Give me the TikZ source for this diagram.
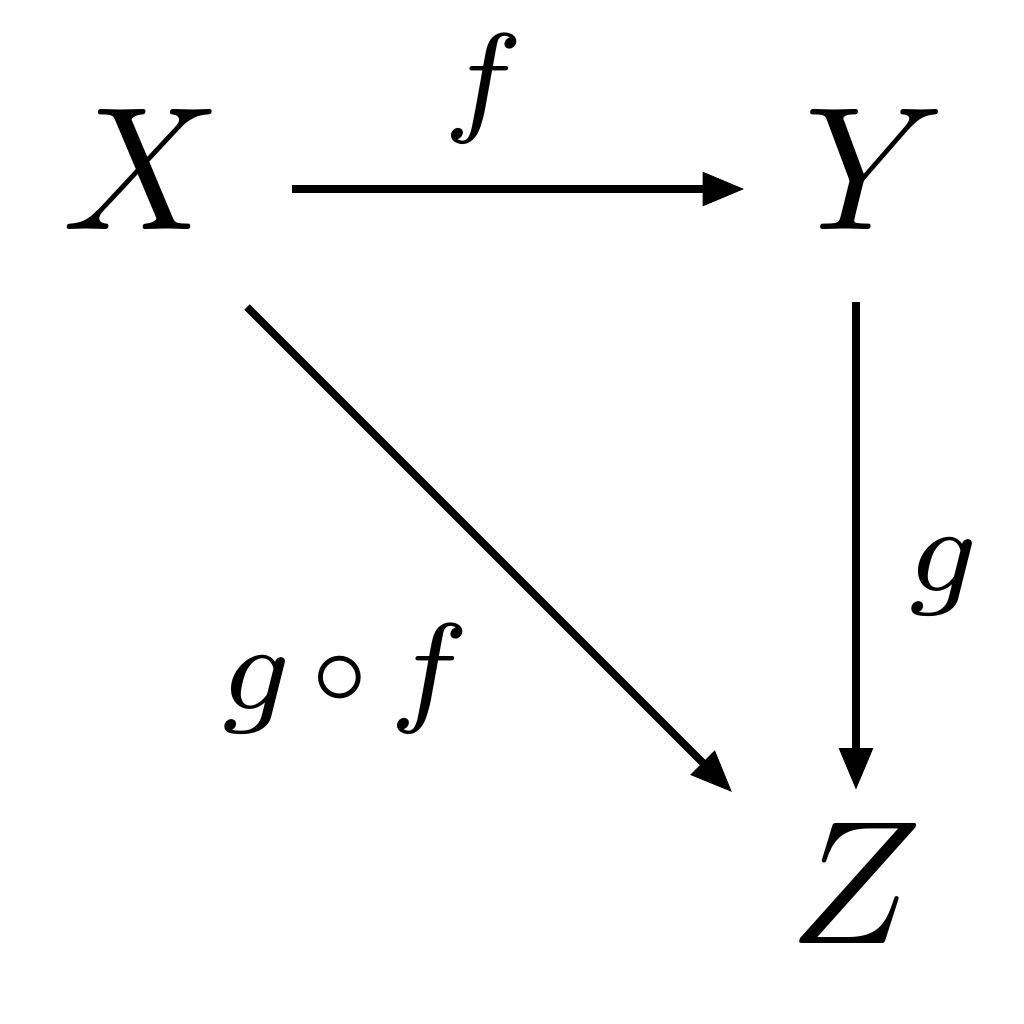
\documentclass[tikz,border=0pt]{standalone}
\usepackage{amsmath}
\usetikzlibrary{arrows.meta}
\newcommand{\smallcirc}{\mathbin{\vcenter{\hbox{$\scriptscriptstyle\circ$}}}}
\tikzset{obj/.style = {inner sep=0pt, text height=7pt, text depth=2.34pt},
         lbl/.style = {font=\scriptsize, inner sep=0pt, anchor=base},
         arr/.style = {-{Triangle[length=2.4pt,width=1.85pt]}, line width=0.43pt}}
\begin{document}
\begin{tikzpicture}[x=0.0569pt,y=-0.0569pt]
        \useasboundingbox(0,0)rectangle(1024,1024);

        \node[obj](X)at(142,189){$X$};
        \node[obj](Y)at(875,189){$Y$};
        \node[obj](Z)at(856,903){$Z$};

        \draw[arr,shorten <=3.8pt,shorten >=3.2pt](X)--(Y);
        \draw[arr,shorten <=1.55pt,shorten >=1.55pt](Y.south-|Z)--(Z.north);
        \draw[arr,shorten <=9.5pt,shorten >=8.9pt]([xshift=-0.74pt]X.center)--([xshift=-0.74pt]Z.center);

        \node[lbl]at(484,119){$f$};
        \node[lbl]at(943,591){$g$};
        \node[lbl]at(345,709){$\medmuskip=2mu g\smallcirc f$};
    \end{tikzpicture}
\end{document}
